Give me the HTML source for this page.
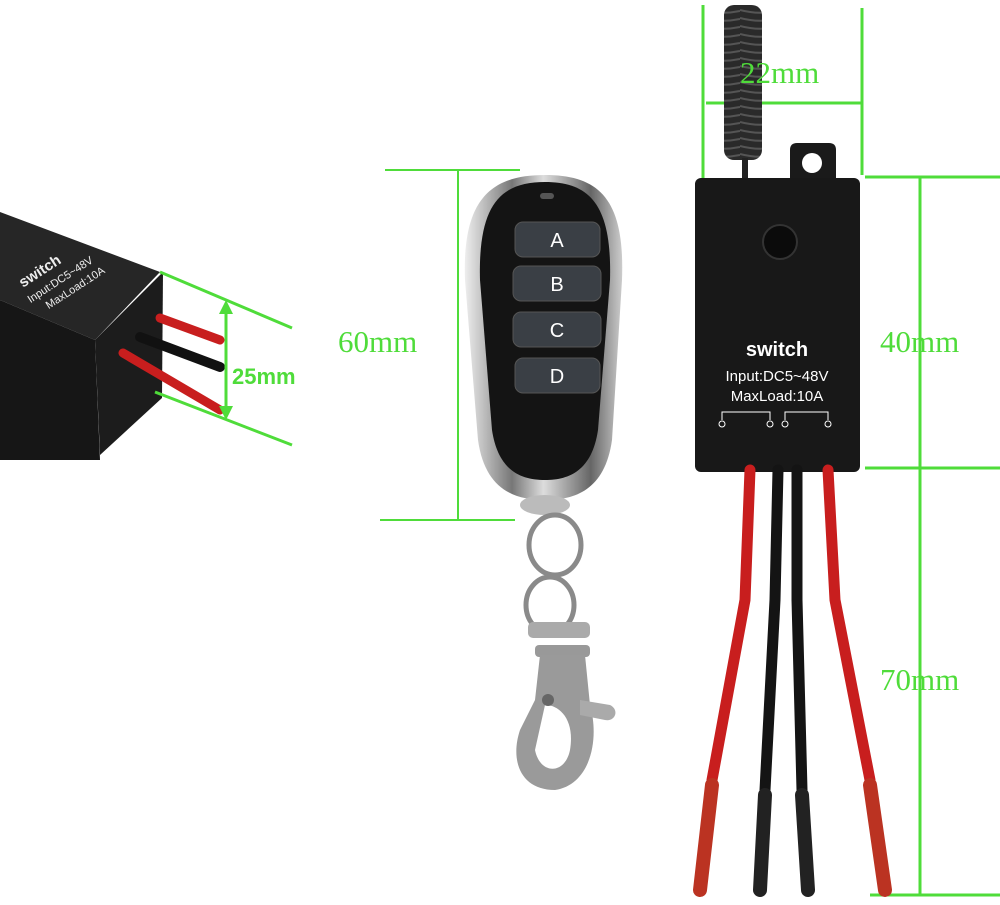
<!DOCTYPE html>
<html><head><meta charset="utf-8"><style>
html,body{margin:0;padding:0;background:#fff;}
svg{display:block;}
.g{fill:#4fdc3a;font-family:"Liberation Serif",serif;font-size:31px;}
</style></head><body>
<svg width="1000" height="905" viewBox="0 0 1000 905" xmlns="http://www.w3.org/2000/svg">
<defs>
<linearGradient id="sil" x1="0" x2="1"><stop offset="0" stop-color="#eee"/><stop offset=".3" stop-color="#777"/><stop offset=".5" stop-color="#ddd"/><stop offset=".8" stop-color="#666"/><stop offset="1" stop-color="#ccc"/></linearGradient>
<pattern id="coil" width="37" height="8" patternUnits="userSpaceOnUse"><rect width="37" height="8" fill="#2a2a2a"/><path d="M0,2 Q18,7 37,3" stroke="#555" stroke-width="2" fill="none"/></pattern>
</defs>
<!-- left box -->
<g>
<path d="M0,212 L160,272 L95,340 L0,300 Z" fill="#262626"/>
<path d="M0,300 L95,340 L100,460 L0,460 Z" fill="#161616"/>
<path d="M95,340 L163,272 L162,398 L100,455 Z" fill="#1c1c1c"/>
<g transform="rotate(-33 60 290)" fill="#eee" font-family="Liberation Sans,sans-serif">
<text x="30" y="268" font-weight="bold" font-size="15">switch</text>
<text x="28" y="285" font-size="11">Input:DC5~48V</text>
<text x="40" y="300" font-size="11">MaxLoad:10A</text>
</g>
<path d="M160,318 L220,340" stroke="#c81e1e" stroke-width="9" stroke-linecap="round"/>
<path d="M140,337 L220,367" stroke="#111" stroke-width="10" stroke-linecap="round"/>
<path d="M123,353 L220,410" stroke="#c81e1e" stroke-width="9" stroke-linecap="round"/>
<g stroke="#4fdc3a" stroke-width="3" fill="none">
<line x1="160" y1="272" x2="292" y2="328"/>
<line x1="155" y1="392" x2="292" y2="445"/>
<line x1="226" y1="305" x2="226" y2="415"/>
</g>
<path d="M226,300 L219,314 L233,314 Z M226,420 L219,406 L233,406 Z" fill="#4fdc3a"/>
<text x="232" y="384" fill="#4fdc3a" font-family="Liberation Sans,sans-serif" font-weight="bold" font-size="22">25mm</text>
</g>
<!-- remote -->
<g>
<g stroke="#4fdc3a" stroke-width="2">
<line x1="385" y1="170" x2="520" y2="170"/>
<line x1="380" y1="520" x2="515" y2="520"/>
<line x1="458" y1="170" x2="458" y2="520"/>
</g>
<text class="g" x="338" y="352">60mm</text>
<path d="M545,175 C490,175 462,200 465,280 L478,440 C485,490 515,500 545,500 C575,500 605,490 612,440 L622,280 C625,200 600,175 545,175 Z" fill="url(#sil)"/>
<path d="M545,182 C500,182 478,205 480,280 L492,430 C498,470 520,480 545,480 C570,480 592,470 598,430 L610,280 C612,205 590,182 545,182 Z" fill="#141414"/>
<rect x="540" y="193" width="14" height="6" rx="3" fill="#555"/>
<g fill="#3a3f45" stroke="#555"><rect x="515" y="222" width="85" height="35" rx="8"/><rect x="513" y="266" width="88" height="35" rx="8"/><rect x="513" y="312" width="88" height="35" rx="8"/><rect x="515" y="358" width="85" height="35" rx="8"/></g>
<g fill="#fff" font-family="Liberation Sans,sans-serif" font-size="20" text-anchor="middle"><text x="557" y="247">A</text><text x="557" y="291">B</text><text x="557" y="337">C</text><text x="557" y="383">D</text></g>
<ellipse cx="545" cy="505" rx="25" ry="10" fill="#bbb"/>
<g fill="none" stroke="#8a8a8a" stroke-width="5">
<ellipse cx="555" cy="545" rx="26" ry="30"/>
<ellipse cx="550" cy="605" rx="24" ry="28"/>
</g>
<rect x="528" y="622" width="62" height="16" rx="5" fill="#aaa"/>
<rect x="535" y="645" width="55" height="12" rx="4" fill="#999"/>
<path d="M540,655 L585,655 L590,705 C600,740 590,785 555,790 C520,790 510,760 520,730 L535,700 Z" fill="#9a9a9a"/>
<path d="M545,705 C560,705 575,720 570,750 C565,775 540,775 535,750 Z" fill="#fff"/>
<path d="M580,700 L610,705 C620,710 615,722 605,720 L580,715 Z" fill="#aaa"/>
<circle cx="548" cy="700" r="6" fill="#666"/>
</g>
<!-- right module -->
<g>
<g stroke="#4fdc3a" stroke-width="3">
<line x1="703" y1="5" x2="703" y2="180"/>
<line x1="862" y1="8" x2="862" y2="175"/>
<line x1="706" y1="103" x2="862" y2="103"/>
<line x1="865" y1="177" x2="1000" y2="177"/>
<line x1="865" y1="468" x2="1000" y2="468"/>
<line x1="870" y1="895" x2="1000" y2="895"/>
<line x1="920" y1="177" x2="920" y2="895"/>
</g>
<rect x="724" y="5" width="38" height="155" rx="10" fill="url(#coil)"/>
<rect x="742" y="158" width="6" height="22" fill="#222"/>
<text class="g" x="740" y="83" font-size="32">22mm</text>
<path d="M790,180 L790,150 Q790,143 797,143 L829,143 Q836,143 836,150 L836,180 Z" fill="#1a1a1a"/>
<circle cx="812" cy="163" r="10" fill="#fff"/>
<rect x="695" y="178" width="165" height="294" rx="6" fill="#181818"/>
<circle cx="780" cy="242" r="17" fill="#0b0b0b" stroke="#333" stroke-width="2"/>
<text x="777" y="356" fill="#fff" font-family="Liberation Sans,sans-serif" font-weight="bold" font-size="20" text-anchor="middle">switch</text>
<text x="777" y="381" fill="#fff" font-family="Liberation Sans,sans-serif" font-size="15" text-anchor="middle">Input:DC5~48V</text>
<text x="777" y="401" fill="#fff" font-family="Liberation Sans,sans-serif" font-size="15" text-anchor="middle">MaxLoad:10A</text>
<g stroke="#fff" stroke-width="1" fill="none"><path d="M722,420 V412 H770 V420"/><path d="M785,420 V412 H828 V420"/><circle cx="722" cy="424" r="3"/><circle cx="770" cy="424" r="3"/><circle cx="785" cy="424" r="3"/><circle cx="828" cy="424" r="3"/></g>
<text class="g" x="880" y="352">40mm</text>
<text class="g" x="880" y="690">70mm</text>
<g stroke-linecap="round">
<path d="M750,470 L745,600 L712,780" stroke="#c81e1e" stroke-width="11" fill="none"/>
<path d="M778,470 L775,600 L765,790" stroke="#141414" stroke-width="11" fill="none"/>
<path d="M797,470 L797,600 L802,790" stroke="#141414" stroke-width="11" fill="none"/>
<path d="M828,470 L835,600 L870,780" stroke="#c81e1e" stroke-width="11" fill="none"/>
<path d="M712,785 L700,890" stroke="#b32" stroke-width="14"/>
<path d="M765,795 L760,890" stroke="#222" stroke-width="14"/>
<path d="M802,795 L808,890" stroke="#222" stroke-width="14"/>
<path d="M870,785 L885,890" stroke="#b32" stroke-width="14"/>
</g>
</g>
</svg>
</body></html>
